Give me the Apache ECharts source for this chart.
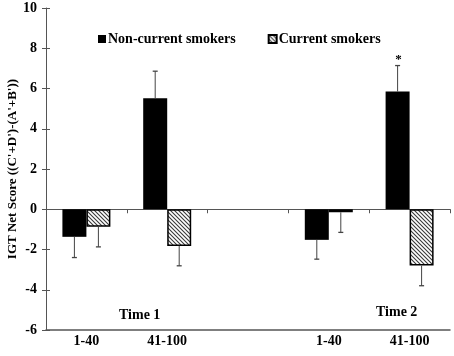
<!DOCTYPE html>
<html>
<head>
<meta charset="utf-8">
<script src="https://cdn.jsdelivr.net/npm/echarts@6/dist/echarts.min.js"></script>
<style>html,body{margin:0;padding:0;background:#fff;}#c{width:454px;height:356px;}</style>
</head>
<body>
<div id="c"></div>
<script>
// ---- data ----
var categories = ['1-40', '41-100', '', '1-40', '41-100'];
var nonCurrent = [-1.37, 5.51, null, -1.52, 5.85];
var nonCurrentErr = [1.03, 1.35, null, 0.96, 1.29];
var current = [-0.87, -1.82, null, -0.15, -2.80];
var currentErr = [1.00, 0.99, null, 1.00, 1.00];
var significant = [false, false, false, false, true]; // non-current smokers
var timeLabels = ['Time 1', 'Time 2'];
var yTicks = {min: -6, max: 10, interval: 2};

var FONT = '"Liberation Serif", "Times New Roman", serif';

function hatch() {
  var cv = document.createElement('canvas');
  cv.width = 4; cv.height = 4;
  var ctx = cv.getContext('2d');
  ctx.fillStyle = '#ffffff';
  ctx.fillRect(0, 0, 4, 4);
  ctx.strokeStyle = '#3a3a3a';
  ctx.lineWidth = 1.1;
  ctx.beginPath();
  ctx.moveTo(-1, -1); ctx.lineTo(5, 5);
  ctx.moveTo(-1, 3); ctx.lineTo(1, 5);
  ctx.moveTo(3, -1); ctx.lineTo(5, 1);
  ctx.stroke();
  return cv;
}

var BAR_W = 24;
var chart = echarts.init(document.getElementById('c'), null, {renderer: 'canvas'});

function errSeries(vals, errs, idx, stars) {
  var data = vals.map(function (v, i) { return v == null ? null : [i, v, errs[i], stars ? (stars[i] ? 1 : 0) : 0]; }).filter(Boolean);
  return {
    type: 'custom',
    xAxisIndex: 0,
    yAxisIndex: 0,
    z: 10,
    silent: true,
    clip: false,
    data: data,
    renderItem: function (params, api) {
      var ci = api.value(0), v = api.value(1), e = api.value(2), s = api.value(3);
      var end = v >= 0 ? v + e : v - e;
      var p0 = api.coord([ci, v]);
      var p1 = api.coord([ci, end]);
      var x = p0[0] + (idx - 0.5) * BAR_W;
      var children = [
        {type: 'line', shape: {x1: x, y1: p0[1], x2: x, y2: p1[1]}, style: {stroke: '#444', lineWidth: 1}},
        {type: 'line', shape: {x1: x - 2.5, y1: p1[1], x2: x + 2.5, y2: p1[1]}, style: {stroke: '#444', lineWidth: 1.3}}
      ];
      if (s) {
        children.push({type: 'text', style: {x: x + 1, y: p1[1] + 1, text: '*', fill: '#000', font: 'bold 13px ' + FONT, align: 'center', verticalAlign: 'bottom'}});
      }
      return {type: 'group', children: children};
    }
  };
}

var option = {
  animation: false,
  backgroundColor: '#fff',
  grid: {left: 46, right: 4, top: 8, bottom: 26, containLabel: false, outerBoundsMode: 'none'},
  legend: {
    left: 93, top: 27,
    icon: 'rect', itemWidth: 8, itemHeight: 8, itemGap: 32,
    textStyle: {fontFamily: FONT, fontWeight: 'bold', fontSize: 14, color: '#000', padding: [0, 0, 0, -3]},
    data: ['Non-current smokers', 'Current smokers']
  },
  xAxis: [{
    type: 'category', data: categories, position: 'bottom',
    axisLine: {onZero: true, lineStyle: {color: '#555', width: 1}},
    axisTick: {show: true, length: 4, lineStyle: {color: '#555'}},
    axisLabel: {show: false}
  }, {
    type: 'category', data: categories, position: 'bottom',
    axisLine: {onZero: false, lineStyle: {color: '#555', width: 1.5}},
    axisTick: {show: false},
    axisLabel: {show: true, margin: 4, fontFamily: FONT, fontWeight: 'bold', fontSize: 14, color: '#000'}
  }],
  yAxis: [{
    type: 'value', min: yTicks.min, max: yTicks.max, interval: yTicks.interval, position: 'left',
    name: "IGT Net Score ((C'+D')-(A'+B'))", nameLocation: 'middle', nameGap: 27, nameMoveOverlap: false,
    nameTextStyle: {fontFamily: FONT, fontWeight: 'bold', fontSize: 13, color: '#000'},
    axisLine: {show: true, lineStyle: {color: '#555', width: 1}},
    axisTick: {show: true, length: 4, lineStyle: {color: '#555'}},
    axisLabel: {margin: 9, fontFamily: FONT, fontWeight: 'bold', fontSize: 14, color: '#000'},
    splitLine: {show: false}
  }, {
    type: 'value', min: yTicks.min, max: yTicks.max, interval: yTicks.interval, position: 'left', offset: 0,
    axisLine: {show: false},
    axisTick: {show: true, inside: true, length: 4, lineStyle: {color: '#555'}},
    axisLabel: {show: false},
    splitLine: {show: false}
  }],
  series: [{
    name: 'Non-current smokers', type: 'bar', xAxisIndex: 0, yAxisIndex: 0,
    data: nonCurrent, barWidth: BAR_W, barGap: '0%',
    itemStyle: {color: '#000', borderColor: '#000', borderWidth: 0}
  }, {
    name: 'Current smokers', type: 'bar', xAxisIndex: 0, yAxisIndex: 0,
    data: current, barWidth: BAR_W, barGap: '0%',
    itemStyle: {color: {image: hatch(), repeat: 'repeat'}, borderColor: '#000', borderWidth: 1.5}
  },
  errSeries(nonCurrent, nonCurrentErr, 0, significant),
  errSeries(current, currentErr, 1, null)
  ],
  graphic: [
    {type: 'text', left: 119, top: 308, style: {text: timeLabels[0], font: 'bold 14px ' + FONT, fill: '#000'}},
    {type: 'text', left: 376, top: 305, style: {text: timeLabels[1], font: 'bold 14px ' + FONT, fill: '#000'}}
  ]
};
chart.setOption(option);
</script>
</body>
</html>
